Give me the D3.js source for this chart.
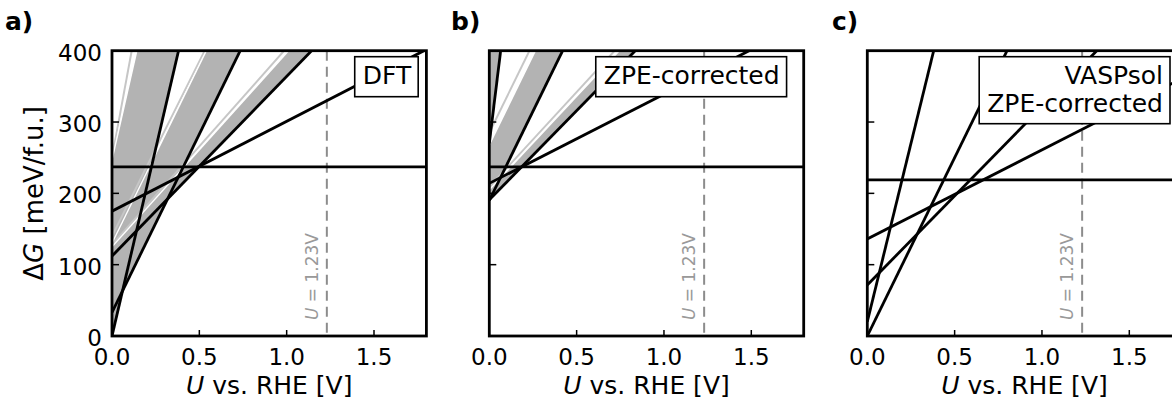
<!DOCTYPE html>
<html><head><meta charset="utf-8">
<script src="https://cdn.jsdelivr.net/npm/d3@7"></script>
<style>
body{margin:0;background:#fff}
svg{display:block}
text{font-family:"DejaVu Sans",sans-serif}
</style>
</head><body>
<svg id="chart" width="1172" height="402"></svg>
<script>
// Free-energy lines dG(U) = dG0 + slope*U  (dG0 in meV/f.u., slope in meV/V)
const panelTags = ["a)", "b)", "c)"];
const legendTexts = [["DFT"], ["ZPE-corrected"], ["VASPsol", "ZPE-corrected"]];
const xTicks = [0, 0.5, 1.0, 1.5];
const yTicks = [0, 100, 200, 300, 400];
const uEquilibrium = 1.23;

const dftLines  = [[237, 0], [175, 126], [112, 252], [33, 500], [0, 1050]];
const zpeLines  = [[237, 0], [214, 125], [191, 250], [190, 500], [270, 2000]];
const vaspLines = [[219, 0], [136, 125], [71.5, 250], [0, 500], [20, 1000]];

// spread over configurations: [lower line, upper line]
const dftBands  = [[[0, 1050], [247, 1076]], [[33, 500], [130, 500]], [[112, 252], [125, 272]]];
const zpeBands  = [[[270, 2000], [600, 2000]], [[190, 500], [268, 500]], [[191, 250], [205, 262]]];
const vaspBands = [];

// individual faint configuration lines
const dftFaint  = [[250, 1330], [140, 490], [128, 276]];
const zpeFaint  = [[285, 500], [209, 266]];
const vaspFaint = [];

const panels = [
  {tag: panelTags[0], legend: legendTexts[0], lines: dftLines, bands: dftBands, faint: dftFaint,
   left: 112, tagX: 5, boxRightU: 1.753, yLabels: true},
  {tag: panelTags[1], legend: legendTexts[1], lines: zpeLines, bands: zpeBands, faint: zpeFaint,
   left: 489.3, tagX: 451, boxRightU: 1.702, yLabels: false},
  {tag: panelTags[2], legend: legendTexts[2], lines: vaspLines, bands: vaspBands, faint: vaspFaint,
   left: 867.3, tagX: 832, boxRightU: 1.733, yLabels: false}
];

const plotTop = 50.7, W = 314.4, H = 285.3;
const svg = d3.select("#chart");
const x = d3.scaleLinear().domain([0, 1.8]).range([0, W]);
const y = d3.scaleLinear().domain([0, 400]).range([H, 0]);
const uSpan = [0, 1.8];
const lineGen = ([g0, k]) => d3.line().x(u => x(u)).y(u => y(g0 + k * u))(uSpan);

panels.forEach((p, i) => {
  const g = svg.append("g").attr("transform", `translate(${p.left},${plotTop})`);
  const clipId = "clip" + i;
  g.append("clipPath").attr("id", clipId)
    .append("rect").attr("x", 0).attr("y", 0).attr("width", W).attr("height", H);
  const plot = g.append("g").attr("clip-path", `url(#${clipId})`);

  // bands
  const area = (lo, hi) => d3.area()
    .x(u => x(u)).y0(u => y(lo[0] + lo[1] * u)).y1(u => y(hi[0] + hi[1] * u))(uSpan);
  p.bands.forEach(([lo, hi]) => {
    plot.append("path").attr("d", area(lo, hi)).attr("fill", "#b3b3b3");
  });
  p.faint.forEach(l => {
    plot.append("path").attr("d", lineGen(l)).attr("stroke", "#c6c6c6")
      .attr("stroke-width", 2).attr("fill", "none");
  });
  p.bands.forEach(([lo, hi]) => {
    plot.append("path").attr("d", lineGen(hi)).attr("stroke", "#ffffff")
      .attr("stroke-width", 1.4).attr("fill", "none");
  });

  // equilibrium potential
  plot.append("line")
    .attr("x1", x(uEquilibrium)).attr("x2", x(uEquilibrium))
    .attr("y1", 0).attr("y2", H)
    .attr("stroke", "#8c8c8c").attr("stroke-width", 2)
    .attr("stroke-dasharray", "10,6");

  // phase lines
  p.lines.forEach(l => {
    plot.append("path").attr("d", lineGen(l)).attr("stroke", "#000")
      .attr("stroke-width", 2.8).attr("fill", "none");
  });

  // rotated annotation
  const ann = g.append("text")
    .attr("transform", `translate(${x(uEquilibrium) - 9},${H - 16}) rotate(-90)`)
    .attr("fill", "#999").attr("font-size", 17);
  ann.append("tspan").attr("font-style", "italic").text("U");
  ann.append("tspan").text(" = 1.23V");

  // legend box
  const boxRight = x(p.boxRightU);
  const boxTop = 6;
  const lg = g.append("g");
  const texts = p.legend.map((t, j) => lg.append("text")
    .attr("x", boxRight - 7).attr("y", boxTop + 27.5 + 28 * j)
    .attr("text-anchor", "end").attr("font-size", 25).text(t));
  const tw = d3.max(texts, t => t.node().getComputedTextLength());
  lg.insert("rect", "text")
    .attr("x", boxRight - tw - 15).attr("y", boxTop)
    .attr("width", tw + 15).attr("height", 13 + 27 * p.legend.length)
    .attr("fill", "#fff").attr("stroke", "#000").attr("stroke-width", 1.6);

  // ticks (inward)
  xTicks.forEach(t => {
    g.append("line").attr("x1", x(t)).attr("x2", x(t)).attr("y1", H).attr("y2", H - 6)
      .attr("stroke", "#000").attr("stroke-width", 1.5);
    g.append("text").attr("x", x(t)).attr("y", H + 29).attr("text-anchor", "middle")
      .attr("font-size", 23).text(d3.format(".1f")(t));
  });
  yTicks.forEach(t => {
    g.append("line").attr("x1", 0).attr("x2", 7).attr("y1", y(t)).attr("y2", y(t))
      .attr("stroke", "#000").attr("stroke-width", 1.5);
    if (p.yLabels) {
      g.append("text").attr("x", -10).attr("y", y(t)).attr("dy", "0.44em")
        .attr("text-anchor", "end").attr("font-size", 23).text(t);
    }
  });

  // frame
  g.append("rect").attr("x", 0).attr("y", 0).attr("width", W).attr("height", H)
    .attr("fill", "none").attr("stroke", "#000").attr("stroke-width", 2.8);

  // x label
  const xl = g.append("text").attr("x", W / 2).attr("y", H + 58)
    .attr("text-anchor", "middle").attr("font-size", 25);
  xl.append("tspan").attr("font-style", "italic").text("U");
  xl.append("tspan").text(" vs. RHE [V]");

  // panel tag
  svg.append("text").attr("x", p.tagX).attr("y", 30).attr("font-size", 25)
    .attr("font-weight", "bold").text(p.tag);
});

// y label on first panel
const yl = svg.append("text")
  .attr("transform", `translate(43,${plotTop + H / 2}) rotate(-90)`)
  .attr("text-anchor", "middle").attr("font-size", 26);
yl.append("tspan").text("\u0394");
yl.append("tspan").attr("font-style", "italic").text("G");
yl.append("tspan").text(" [meV/f.u.]");
</script>
</body></html>
